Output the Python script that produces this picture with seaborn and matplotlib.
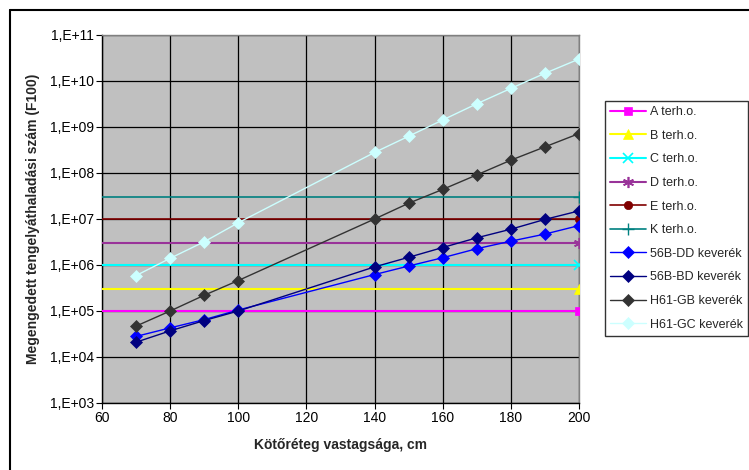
import matplotlib
matplotlib.use("Agg")
import matplotlib.pyplot as plt
import matplotlib.ticker as mticker
from matplotlib.lines import Line2D
import seaborn as sns
import pandas as pd

# ---- data ----
thickness = [70, 80, 90, 100, 140, 150, 160, 170, 180, 190, 200]
dd_56b = [2.8e4, 4.3e4, 6.5e4, 1.05e5, 6.2e5, 9.5e5, 1.44e6, 2.26e6, 3.3e6, 4.7e6, 7.2e6]
bd_56b = [2.1e4, 3.7e4, 6.2e4, 1.0e5, 9.1e5, 1.47e6, 2.4e6, 3.9e6, 6.0e6, 9.8e6, 1.5e7]
gb_h61 = [4.7e4, 1.0e5, 2.2e5, 4.6e5, 1.0e7, 2.2e7, 4.4e7, 9.1e7, 1.9e8, 3.7e8, 7.2e8]
gc_h61 = [5.9e5, 1.4e6, 3.2e6, 8.3e6, 2.8e8, 6.3e8, 1.42e9, 3.2e9, 6.9e9, 1.47e10, 3.0e10]

ref_x = [60, 200]
ref_names = ["A terh.o.", "B terh.o.", "C terh.o.", "D terh.o.", "E terh.o.", "K terh.o."]
ref_values = [1e5, 3e5, 1e6, 3e6, 1e7, 3e7]

mix_names = ["56B-DD keverék", "56B-BD keverék", "H61-GB keverék", "H61-GC keverék"]

y_ticks = [1e3, 1e4, 1e5, 1e6, 1e7, 1e8, 1e9, 1e10, 1e11]
y_tick_labels = ["1,E+03", "1,E+04", "1,E+05", "1,E+06", "1,E+07",
                 "1,E+08", "1,E+09", "1,E+10", "1,E+11"]
x_ticks = [60, 80, 100, 120, 140, 160, 180, 200]

# ---- styles ----
ref_styles = [
    dict(color="#FF00FF", marker="s", ms=6, mew=0.5, lw=1.5),
    dict(color="#FFFF00", marker="^", ms=7, mew=0.5, lw=1.5),
    dict(color="#00FFFF", marker="x", ms=7, mew=1.2, lw=1.5),
    dict(color="#993399", marker=(6, 2, 0), ms=8, mew=1.2, lw=1.5),
    dict(color="#800000", marker="o", ms=6, mew=0.5, lw=1.2),
    dict(color="#008080", marker="+", ms=8, mew=1.0, lw=1.2),
]
mix_styles = [
    dict(color="#0000FF", lw=1.0),
    dict(color="#000080", lw=1.0),
    dict(color="#333333", lw=1.0),
    dict(color="#CCFFFF", lw=1.0),
]

sns.set_style("white")
plt.rcParams["font.family"] = ["Liberation Sans", "DejaVu Sans"]

fig = plt.figure(figsize=(7.49, 4.70), dpi=100)
ax = fig.add_axes([102 / 749, 1 - 403 / 470, 477 / 749, 368 / 470])
ax.set_facecolor("#C0C0C0")

handles = []
for name, val, st in zip(ref_names, ref_values, ref_styles):
    df = pd.DataFrame({"x": ref_x, "y": [val, val]})
    sns.lineplot(data=df, x="x", y="y", ax=ax, color=st["color"], lw=st["lw"],
                 marker=st["marker"], markersize=st["ms"], markeredgewidth=st["mew"],
                 markeredgecolor=st["color"], markerfacecolor=st["color"],
                 markevery=[1], legend=False, zorder=3)
    handles.append(Line2D([], [], color=st["color"], lw=st["lw"], marker=st["marker"],
                          markersize=st["ms"], markeredgewidth=st["mew"],
                          markeredgecolor=st["color"], markerfacecolor=st["color"]))

for name, vals, st in zip(mix_names, [dd_56b, bd_56b, gb_h61, gc_h61], mix_styles):
    df = pd.DataFrame({"x": thickness, "y": vals})
    sns.lineplot(data=df, x="x", y="y", ax=ax, color=st["color"], lw=st["lw"],
                 marker="D", markersize=6, markeredgewidth=0.5,
                 markeredgecolor=st["color"], markerfacecolor=st["color"],
                 legend=False, zorder=4)
    handles.append(Line2D([], [], color=st["color"], lw=st["lw"], marker="D",
                          markersize=6, markeredgewidth=0.5,
                          markeredgecolor=st["color"], markerfacecolor=st["color"]))

ax.set_yscale("log")
ax.set_ylim(1e3, 1e11)
ax.set_xlim(60, 200)
ax.set_yticks(y_ticks)
ax.yaxis.set_major_formatter(mticker.FixedFormatter(y_tick_labels))
ax.yaxis.set_minor_locator(mticker.NullLocator())
ax.set_xticks(x_ticks)
ax.set_xticklabels([str(v) for v in x_ticks])

ax.grid(True, which="major", color="#000000", lw=0.9, zorder=1)
ax.set_axisbelow(True)
ax.tick_params(axis="both", which="major", direction="out", length=4, width=0.8,
               color="black", labelsize=10, labelcolor="black", pad=2,
               left=True, bottom=True)

for side in ["top", "right"]:
    ax.spines[side].set_color("#808080")
    ax.spines[side].set_linewidth(1.0)
for side in ["left", "bottom"]:
    ax.spines[side].set_color("#000000")
    ax.spines[side].set_linewidth(1.0)
    ax.spines[side].set_visible(True)

ax.set_xlabel("Kötőréteg vastagsága, cm", fontsize=10, fontweight="bold")
ax.set_ylabel("Megengedett tengelyáthaladási szám (F100)", fontsize=10, fontweight="bold")
ax.xaxis.set_label_coords(0.5, -0.095)
ax.yaxis.set_label_coords(-0.13, 0.5)

leg = fig.legend(handles, ref_names + mix_names, loc="upper left",
                 bbox_to_anchor=(605 / 749, 1 - 101 / 470), frameon=True,
                 fancybox=False, edgecolor="black", fontsize=9,
                 handlelength=2.9, handletextpad=0.3, labelspacing=0.93,
                 borderpad=0.4, borderaxespad=0.0)
leg.get_frame().set_linewidth(1.0)

# outer chart frame (top and left edges visible)
fig.add_artist(Line2D([10 / 749, 1.0], [1 - 10 / 470, 1 - 10 / 470],
                      transform=fig.transFigure, color="black", lw=1.5))
fig.add_artist(Line2D([10 / 749, 10 / 749], [0.0, 1 - 10 / 470],
                      transform=fig.transFigure, color="black", lw=1.5))

fig.savefig("out.png", dpi=100, facecolor="white")
